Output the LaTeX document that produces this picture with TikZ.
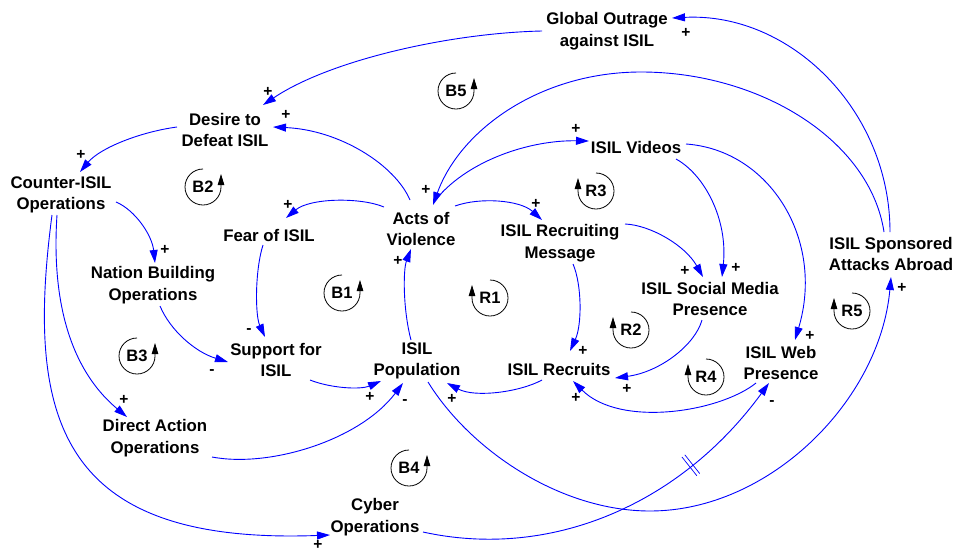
\documentclass[tikz,border=0pt]{standalone}
\usepackage{fontspec}
\setmainfont{Liberation Sans}
\usetikzlibrary{arrows.meta,calc,decorations.markings}
\tikzset{
  var/.style={font=\bfseries\fontsize{16.8}{21.5}\selectfont, align=center, inner sep=0pt},
  link/.style={blue, line width=0.9pt, -{Triangle[length=13pt,width=8pt]}},
  pol/.style={font=\bfseries\fontsize{15.5}{15.5}\selectfont, inner sep=0pt},
  looplbl/.style={font=\bfseries\fontsize{16.5}{16.5}\selectfont, inner sep=0pt},
  loopline/.style={black, line width=0.8pt, -{Triangle[length=11pt,width=6.5pt]}},
  delaymark/.style={postaction={decorate, decoration={markings,
     mark=at position 0.715 with {\draw[blue, line width=0.7pt, -] (-1.8,-12) -- (-1.8,12) (1.8,-12) -- (1.8,12);}}}}
}
\newcommand\loopmarkB[3]{%
  \node[looplbl] (#1) at (#2) {#3};
  \draw[loopline] (#1.center) ++(0,-18) arc[start angle=-90, end angle=-360, radius=18] -- ++(0,-13);}
\newcommand\loopmarkR[3]{%
  \node[looplbl] (#1) at (#2) {#3};
  \draw[loopline] (#1.center) ++(0,-18) arc[start angle=-90, end angle=180, radius=18] -- ++(0,-13);}
\begin{document}
\begin{tikzpicture}[x=1pt,y=-1pt]
\fill[white] (0,0) rectangle (955,552);
\useasboundingbox (0,0) rectangle (955,552);

% variables
\node[var] (out) at (607,31) {Global Outrage\\against ISIL};
\node[var] (desire) at (225,130) {Desire to\\Defeat ISIL};
\node[var] (counter) at (61,195) {Counter-ISIL\\Operations};
\node[var] (fear) at (269,235) {Fear of ISIL};
\node[var] (nation) at (153,285) {Nation Building\\Operations};
\node[var] (acts) at (421,229) {Acts of\\Violence};
\node[var] (recmsg) at (560,243) {ISIL Recruiting\\Message};
\node[var] (videos) at (636,147) {ISIL Videos};
\node[var] (social) at (710,299) {ISIL Social Media\\Presence};
\node[var] (sponsored) at (891,254) {ISIL Sponsored\\Attacks Abroad};
\node[var] (web) at (781,363) {ISIL Web\\Presence};
\node[var] (recruits) at (559,369) {ISIL Recruits};
\node[var] (pop) at (417,361) {ISIL\\Population};
\node[var] (support) at (276,360) {Support for\\ISIL};
\node[var] (direct) at (155,438) {Direct Action\\Operations};
\node[var] (cyber) at (375,517) {Cyber\\Operations};

% links
\draw[link] ($(sponsored)+(-1,-22)$) .. controls (890,110) and (790,12) .. ($(out)+(65,-13)$);
\draw[link] ($(out)+(-65,0)$) .. controls (450,33) and (330,60) .. ($(desire)+(38,-25)$);
\draw[link] ($(acts)+(-11,-29)$) .. controls (395,165) and (340,130) .. ($(desire)+(48,-3)$);
\draw[link] ($(desire)+(-48,-3)$) .. controls (140,132) and (100,148) .. ($(counter)+(19,-23)$);
\draw[link] ($(counter)+(55,7)$) .. controls (135,210) and (152,235) .. ($(nation)+(2,-22)$);
\draw[link] ($(counter)+(-4,20)$) .. controls (52,290) and (65,365) .. ($(direct)+(-28,-21)$);
\draw[link] ($(counter)+(-9,20)$) .. controls (25,420) and (60,545) .. ($(cyber)+(-45,18)$);
\draw[link] ($(nation)+(7,21)$) .. controls (170,330) and (195,352) .. ($(support)+(-48,2)$);
\draw[link] ($(fear)+(-6,10)$) .. controls (255,270) and (255,315) .. ($(support)+(-11,-23)$);
\draw[link] ($(acts)+(-37,-22)$) .. controls (360,197) and (310,198) .. ($(fear)+(17,-17)$);
\draw[link] ($(support)+(34,20)$) .. controls (330,388) and (360,390) .. ($(pop)+(-36,20)$);
\draw[link] ($(direct)+(57,19)$) .. controls (270,468) and (360,440) .. ($(pop)+(-14,22)$);
\draw[link] ($(pop)+(-6,-21)$) .. controls (403,310) and (403,270) .. ($(acts)+(-10,20)$);
\draw[link] ($(acts)+(34,-23)$) .. controls (480,197) and (520,200) .. ($(recmsg)+(-18,-23)$);
\draw[link] ($(acts)+(17,-32)$) .. controls (470,160) and (530,140) .. ($(videos)+(-47,-6)$);
\draw[link] ($(sponsored)+(-7,-22)$) .. controls (870,140) and (760,72) .. (641,72) .. controls (540,72) and (460,130) .. ($(acts)+(12,-24)$);
\draw[link] ($(videos)+(40,12)$) .. controls (705,175) and (728,220) .. ($(social)+(12,-22)$);
\draw[link] ($(recmsg)+(65,-19)$) .. controls (650,225) and (685,245) .. ($(social)+(-7,-22)$);
\draw[link] ($(videos)+(50,-3)$) .. controls (770,150) and (825,240) .. ($(web)+(14,-23)$);
\draw[link] ($(recmsg)+(13,21)$) .. controls (582,285) and (582,325) .. ($(recruits)+(11,-18)$);
\draw[link] ($(social)+(-8,21)$) .. controls (695,345) and (660,372) .. ($(recruits)+(56,9)$);
\draw[link] ($(web)+(-25,20)$) .. controls (720,412) and (620,428) .. ($(recruits)+(14,12)$);
\draw[link] ($(recruits)+(-17,11)$) .. controls (520,392) and (475,398) .. ($(pop)+(30,22)$);
\draw[link] ($(pop)+(11,21)$) .. controls (470,450) and (560,511) .. (650,511) .. controls (770,511) and (880,400) .. ($(sponsored)+(0,23)$);
\draw[link, delaymark] ($(cyber)+(48,15)$) .. controls (550,560) and (680,505) .. ($(web)+(-12,20)$);

% polarities
\node[pol] (p1) at (686,33) {+};
\node[pol] (p2) at (268,92) {+};
\node[pol] (p3) at (286,115) {+};
\node[pol] (p4) at (81,155) {+};
\node[pol] (p5) at (165,250) {+};
\node[pol] (p6) at (124,400) {+};
\node[pol] (p7) at (318,545) {+};
\node[pol] (p8) at (212,372) {-};
\node[pol] (p9) at (249,331) {-};
\node[pol] (p10) at (288,205) {+};
\node[pol] (p11) at (370,397) {+};
\node[pol] (p12) at (405,402) {-};
\node[pol] (p13) at (398,261) {+};
\node[pol] (p14) at (536,204) {+};
\node[pol] (p15) at (576,129) {+};
\node[pol] (p16) at (426,190) {+};
\node[pol] (p17) at (736,268) {+};
\node[pol] (p18) at (685,271) {+};
\node[pol] (p19) at (810,336) {+};
\node[pol] (p20) at (583,351) {+};
\node[pol] (p21) at (627,389) {+};
\node[pol] (p22) at (576,398) {+};
\node[pol] (p23) at (452,399) {+};
\node[pol] (p24) at (902,288) {+};
\node[pol] (p25) at (772,403) {-};

% loop markers
\loopmarkB{B2}{203,187}{B2}
\loopmarkB{B1}{342,293}{B1}
\loopmarkB{B3}{137,356}{B3}
\loopmarkB{B4}{409,468}{B4}
\loopmarkB{B5}{456,91}{B5}
\loopmarkR{R1}{490,298}{R1}
\loopmarkR{R3}{596,191}{R3}
\loopmarkR{R2}{631,330}{R2}
\loopmarkR{R4}{706,377}{R4}
\loopmarkR{R5}{852,311}{R5}
\end{tikzpicture}
\end{document}
